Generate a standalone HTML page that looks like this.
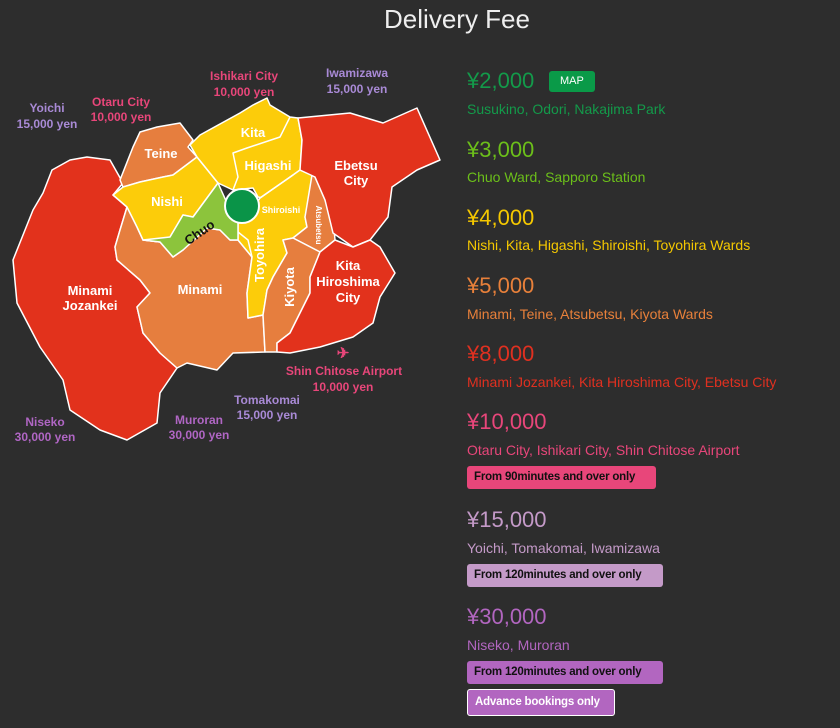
<!DOCTYPE html>
<html><head><meta charset="utf-8"><style>
body{margin:0;width:840px;height:728px;background:#2d2d2d;overflow:hidden;font-family:"Liberation Sans",sans-serif;position:relative}
.t{position:absolute;white-space:nowrap}
.price{position:absolute;left:467px;font-size:22px;line-height:26px}
.sub{position:absolute;left:467px;font-size:14px;line-height:18px}
.badge{position:absolute;left:467px;height:23px;line-height:23px;padding:0 7px;font-size:11.5px;letter-spacing:-0.2px;font-weight:bold;color:#111;border-radius:3px;box-sizing:border-box;white-space:nowrap;overflow:hidden}
</style></head><body>
<div class="t" style="left:0;width:914px;text-align:center;top:4px;font-size:26px;color:#eee">Delivery Fee</div>

<svg width="450" height="450" style="position:absolute;left:0;top:0" font-family="Liberation Sans, sans-serif" font-weight="bold">
<g stroke="#fff" stroke-width="1.5" stroke-linejoin="round">
<polygon fill="#e2321c" points="52,170 70,160 87,157 110,160 123,183 113,195 127,207 120,230 115,247 117,260 140,280 150,293 137,307 143,333 160,353 177,368 160,393 157,423 127,440 100,430 70,410 63,380 40,347 17,303 13,260 33,210 43,193"/>
<polygon fill="#e67e3e" points="115,247 120,230 127,207 137,227 143,240 160,242 173,257 183,250 207,228 220,230 230,240 238,240 252,257 247,293 248,318 263,315 265,352 233,353 217,370 187,363 177,368 160,353 143,333 137,307 150,293 140,280 117,260"/>
<polygon fill="#e67e3e" points="120,180 133,147 140,132 157,127 180,123 193,140 188,147 197,157 173,175 163,177 140,182 123,187"/>
<polygon fill="#fccc0a" points="113,195 123,187 140,182 163,177 173,175 197,157 218,183 193,217 183,215 170,237 160,242 143,240 137,227 127,207"/>
<polygon fill="#fccc0a" points="190,145 200,135 240,113 253,105 267,98 270,105 290,117 298,118 302,140 300,170 293,175 263,198 258,197 253,188 233,190 218,183 197,157"/>
<polygon fill="#fccc0a" points="260,198 293,175 300,170 312,175 315,177 305,217 307,227 293,238 283,240 287,253 273,277 267,290 263,315 248,318 247,293 252,257 238,240 238,223 247,217"/>
<polygon fill="#e67e3e" points="312,175 315,177 325,200 333,217 335,240 320,252 293,238 307,227 305,217"/>
<polygon fill="#e67e3e" points="283,240 293,238 320,252 310,277 310,293 290,333 277,343 277,352 265,352 263,315 267,290 273,277 287,253"/>
<polygon fill="#8cc43c" points="143,240 160,242 173,257 183,250 207,228 220,230 230,240 238,240 238,223 227,203 218,183 193,217 183,215 170,237"/>
<polygon fill="#e2321c" points="298,118 350,113 383,123 417,108 440,160 417,170 392,187 388,217 370,240 353,247 333,233 325,200 315,177 300,170 302,140"/>
<polygon fill="#e2321c" points="320,252 335,240 353,247 370,240 380,247 395,273 380,297 373,323 353,337 320,347 290,353 277,352 277,343 290,333 310,293 310,277"/>
<polyline fill="none" points="233,190 238,177 233,153 247,148 280,137 290,117"/>
<polyline fill="none" points="260,198 293,175"/>
<polyline fill="none" points="252,257 248,240 238,232"/>
</g>
<circle cx="242" cy="206" r="17" fill="#0a9448" stroke="#fff" stroke-width="2"/>
<g fill="#fff" font-size="13" text-anchor="middle">
<text x="161" y="158">Teine</text><text x="253" y="137">Kita</text><text x="268" y="170">Higashi</text>
<text x="167" y="206">Nishi</text><text x="200" y="294">Minami</text>
<text x="90" y="295">Minami</text><text x="90" y="310">Jozankei</text>
<text x="356" y="170">Ebetsu</text><text x="356" y="185">City</text>
<text x="348" y="270">Kita</text><text x="348" y="286">Hiroshima</text><text x="348" y="302">City</text>
<text x="281" y="213" font-size="9">Shiroishi</text>
<text transform="translate(264,255) rotate(-90)">Toyohira</text>
<text transform="translate(294,287) rotate(-90)">Kiyota</text>
<text transform="translate(316,225) rotate(90)" font-size="8">Atsubetsu</text>
<text transform="translate(202,236) rotate(-35)" fill="#111">Chuo</text>
</g>
<g font-size="12" text-anchor="middle">
<g fill="#e8467a"><text x="244" y="80">Ishikari City</text><text x="244" y="96">10,000 yen</text>
<text x="121" y="106">Otaru City</text><text x="121" y="121">10,000 yen</text>
<text x="344" y="375">Shin Chitose Airport</text><text x="343" y="391">10,000 yen</text>
<text x="343" y="358" font-size="15">✈</text></g>
<g fill="#a98ad6"><text x="357" y="77">Iwamizawa</text><text x="357" y="93">15,000 yen</text>
<text x="47" y="112">Yoichi</text><text x="47" y="128">15,000 yen</text>
<text x="267" y="404">Tomakomai</text><text x="267" y="419">15,000 yen</text></g>
<g fill="#b066c4"><text x="199" y="424">Muroran</text><text x="199" y="439">30,000 yen</text>
<text x="45" y="426">Niseko</text><text x="45" y="441">30,000 yen</text></g>
</g>
</svg>

<div class="price" style="top:68px;color:#139a4a">¥2,000</div>
<div class="badge" style="left:549px;top:71px;height:21px;line-height:21px;background:#0a9a48;color:#fff;font-weight:normal;font-size:11px;padding:0 11px;letter-spacing:0">MAP</div>
<div class="sub" style="top:100px;color:#139a4a">Susukino, Odori, Nakajima Park</div>
<div class="price" style="top:137px;color:#6cbf1a">¥3,000</div>
<div class="sub" style="top:168px;color:#6cbf1a">Chuo Ward, Sapporo Station</div>
<div class="price" style="top:205px;color:#f5c800">¥4,000</div>
<div class="sub" style="top:236px;color:#f5c800">Nishi, Kita, Higashi, Shiroishi, Toyohira Wards</div>
<div class="price" style="top:273px;color:#e8803a">¥5,000</div>
<div class="sub" style="top:305px;color:#e8803a">Minami, Teine, Atsubetsu, Kiyota Wards</div>
<div class="price" style="top:341px;color:#e03020">¥8,000</div>
<div class="sub" style="top:373px;color:#e03020">Minami Jozankei, Kita Hiroshima City, Ebetsu City</div>
<div class="price" style="top:409px;color:#e8467a">¥10,000</div>
<div class="sub" style="top:441px;color:#e8467a">Otaru City, Ishikari City, Shin Chitose Airport</div>
<div class="badge" style="top:466px;width:189px;background:#e8467a">From 90minutes and over only</div>
<div class="price" style="top:507px;color:#c49ac8">¥15,000</div>
<div class="sub" style="top:539px;color:#c49ac8">Yoichi, Tomakomai, Iwamizawa</div>
<div class="badge" style="top:564px;width:196px;background:#c49ac8">From 120minutes and over only</div>
<div class="price" style="top:604px;color:#b266c0">¥30,000</div>
<div class="sub" style="top:636px;color:#b266c0">Niseko, Muroran</div>
<div class="badge" style="top:661px;width:196px;background:#b266c0">From 120minutes and over only</div>
<div class="badge" style="top:689px;width:148px;height:27px;line-height:25px;background:#b266c0;color:#fff;border:1px solid #fff">Advance bookings only</div>
</body></html>
